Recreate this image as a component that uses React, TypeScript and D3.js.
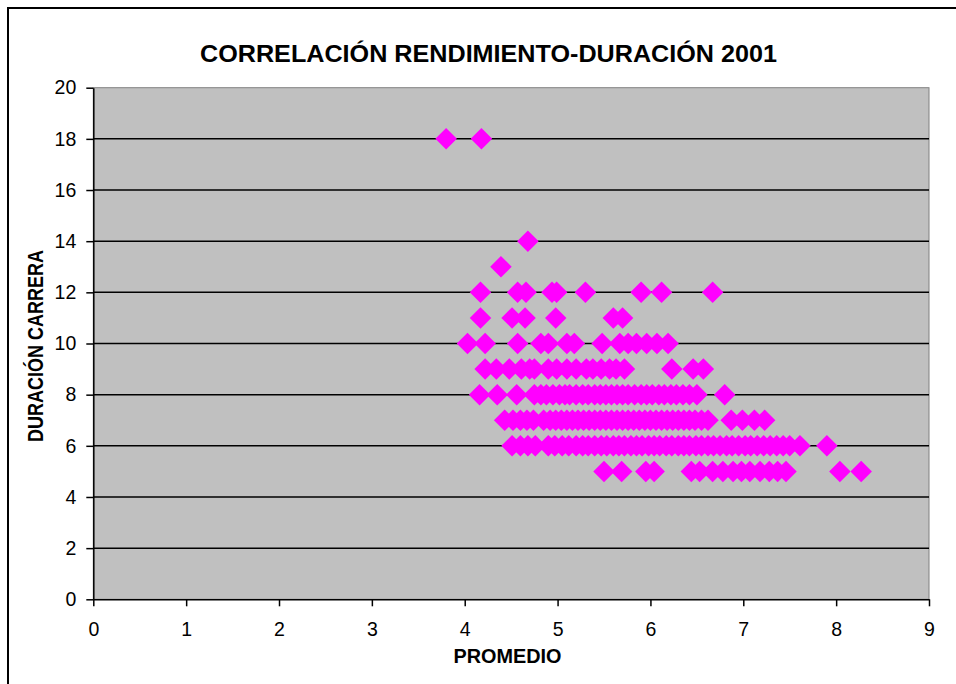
import { useEffect, useRef } from "react";
import * as d3 from "d3";

const W = 956;
const H = 684;

const xTicks = [0, 1, 2, 3, 4, 5, 6, 7, 8, 9];
const yTicks = [0, 2, 4, 6, 8, 10, 12, 14, 16, 18, 20];
const gridTicks = [2, 4, 6, 8, 10, 12, 14, 16, 18];

const prom18 = [3.8, 4.18];
const prom14 = [4.68];
const prom13 = [4.39];
const prom12 = [4.17, 4.57, 4.66, 4.94, 4.99, 5.3, 5.9, 6.12, 6.67];
const prom11 = [4.17, 4.51, 4.65, 4.98, 5.6, 5.7];
const prom10 = [4.03, 4.22, 4.57, 4.82, 4.9, 5.1, 5.18, 5.48, 5.67, 5.76, 5.85, 5.96, 6.07, 6.19];
const prom9 = [
  4.22, 4.34, 4.48, 4.61, 4.7, 4.75, 4.9, 4.99, 5.1, 5.2, 5.31, 5.38, 5.47, 5.56, 5.63, 5.72,
  6.23, 6.46, 6.57,
];
const prom8 = [
  4.16, 4.35, 4.56, 4.75, 4.82, 4.88, 4.95, 5.02, 5.08, 5.13, 5.2, 5.27, 5.33, 5.4, 5.46, 5.52,
  5.58, 5.64, 5.7, 5.76, 5.83, 5.9, 5.96, 6.02, 6.09, 6.15, 6.22, 6.28, 6.35, 6.42, 6.5, 6.8,
];
const prom7 = [
  4.43, 4.52, 4.6, 4.67, 4.74, 4.85, 4.92, 4.98, 5.04, 5.1, 5.16, 5.22, 5.28, 5.34, 5.4, 5.46,
  5.52, 5.58, 5.64, 5.7, 5.76, 5.82, 5.88, 5.94, 6.0, 6.06, 6.12, 6.18, 6.24, 6.3, 6.36, 6.42,
  6.48, 6.55, 6.62, 6.87, 6.99, 7.12, 7.23,
];
const prom6 = [
  4.51, 4.6, 4.68, 4.76, 4.9, 4.97, 5.05, 5.12, 5.2, 5.27, 5.33, 5.4, 5.47, 5.53, 5.6, 5.66,
  5.72, 5.79, 5.85, 5.91, 5.98, 6.04, 6.1, 6.17, 6.23, 6.3, 6.36, 6.42, 6.49, 6.55, 6.62, 6.68,
  6.75, 6.82, 6.88, 6.95, 7.02, 7.08, 7.15, 7.22, 7.29, 7.36, 7.43, 7.5, 7.61, 7.9,
];
const prom5 = [
  5.5, 5.69, 5.95, 6.04, 6.44, 6.53, 6.67, 6.78, 6.89, 6.98, 7.07, 7.18, 7.28, 7.37, 7.46,
  8.04, 8.27,
];

const rows: [number, number[]][] = [
  [18, prom18],
  [14, prom14],
  [13, prom13],
  [12, prom12],
  [11, prom11],
  [10, prom10],
  [9, prom9],
  [8, prom8],
  [7, prom7],
  [6, prom6],
  [5, prom5],
];

const points = rows.flatMap(([dur, proms]) => proms.map((p) => ({ p, dur })));

const FONT = "'Liberation Sans', Arial, sans-serif";

export default function App() {
  const axesRef = useRef<SVGGElement>(null);

  const x = d3.scaleLinear().domain([0, 9]).range([93.3, 929]);
  const y = d3.scaleLinear().domain([0, 20]).range([599.3, 87.7]);
  const diamond = d3.symbol().type(d3.symbolSquare).size(231)() as string;

  useEffect(() => {
    const g = d3.select(axesRef.current);
    g.selectAll("*").remove();

    const yAxis = d3.axisLeft(y).tickValues(yTicks).tickSize(7).tickSizeOuter(0).tickPadding(10);
    const xAxis = d3.axisBottom(x).tickValues(xTicks).tickSize(7).tickSizeOuter(0).tickPadding(16);

    g.append("g").attr("transform", `translate(${x(0)},0)`).call(yAxis);
    g.append("g").attr("transform", `translate(0,${y(0)})`).call(xAxis);

    g.selectAll(".domain").attr("stroke", "#000").attr("stroke-width", 1.5);
    g.selectAll(".tick line").attr("stroke", "#000").attr("stroke-width", 1.5);
    g.selectAll(".tick text")
      .attr("font-family", FONT)
      .attr("font-size", 19.5)
      .attr("fill", "#000");
  }, []);

  return (
    <div style={{ position: "absolute", left: 0, top: 0 }}>
      <svg width={W} height={H} style={{ display: "block", background: "#fff" }}>
        {/* chart frame */}
        <rect x={8} y={8} width={W + 20} height={H + 20} fill="#fff" stroke="#000" strokeWidth={2} />

        {/* plot area */}
        <rect
          x={x(0)}
          y={y(20)}
          width={x(9) - x(0)}
          height={y(0) - y(20)}
          fill="#C0C0C0"
          stroke="#808080"
          strokeWidth={1}
        />
        {gridTicks.map((t) => (
          <line key={t} x1={x(0)} x2={x(9)} y1={y(t)} y2={y(t)} stroke="#000" strokeWidth={1.5} />
        ))}

        {points.map((d, i) => (
          <path
            key={i}
            d={diamond}
            transform={`translate(${x(d.p)},${y(d.dur)}) rotate(45)`}
            fill="#FF00FF"
          />
        ))}

        <g ref={axesRef} />

        <text
          x={488.5}
          y={62}
          textAnchor="middle"
          fontFamily={FONT}
          fontWeight="bold"
          fontSize={23}
          textLength={577}
          lengthAdjust="spacingAndGlyphs"
        >
          CORRELACIÓN RENDIMIENTO-DURACIÓN 2001
        </text>

        <text
          x={507.5}
          y={663}
          textAnchor="middle"
          fontFamily={FONT}
          fontWeight="bold"
          fontSize={20.5}
          textLength={108}
          lengthAdjust="spacingAndGlyphs"
        >
          PROMEDIO
        </text>

        <text
          transform="translate(42.5,346) rotate(-90)"
          textAnchor="middle"
          fontFamily={FONT}
          fontWeight="bold"
          fontSize={21.5}
          textLength={192}
          lengthAdjust="spacingAndGlyphs"
        >
          DURACIÓN CARRERA
        </text>
      </svg>
    </div>
  );
}
